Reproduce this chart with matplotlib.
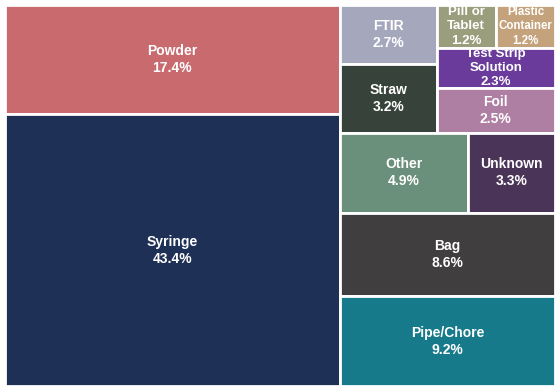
import matplotlib
matplotlib.use("Agg")
import matplotlib.pyplot as plt
from matplotlib.patches import Rectangle

# share of items by type (%)
labels = ["Syringe", "Powder", "Pipe/Chore", "Bag", "Other", "Unknown",
          "Straw", "FTIR", "Foil", "Test Strip\nSolution", "Pill or\nTablet",
          "Plastic\nContainer"]
values = [43.4, 17.4, 9.2, 8.6, 4.9, 3.3, 3.2, 2.7, 2.5, 2.3, 1.2, 1.2]
colors = ["#1f3057", "#c96a6f", "#177a8a", "#403e3f", "#6a8f7b", "#4a3458",
          "#37433a", "#a5a7bd", "#ae7fa2", "#6a3b9b", "#9a9e7d", "#c4a27b"]
# label sizes (pt); the three-line labels are a bit smaller
font_sizes = [10, 10, 10, 10, 10, 10, 10, 10, 10, 9.5, 9.5, 8.3]

# nesting of the tiles: ("h", ...) side by side, ("v", ...) stacked top to bottom
layout = ("h",
          ("v", 1, 0),
          ("v",
           ("h",
            ("v", 7, 6),
            ("v", ("h", 10, 11), 9, 8)),
           ("h", 4, 5),
           3,
           2))


def total(node):
    if isinstance(node, int):
        return values[node]
    return sum(total(c) for c in node[1:])


def place(node, x, y, w, h, out):
    if isinstance(node, int):
        out.append((node, x, y, w, h))
        return
    s = total(node)
    pos = 0.0
    for c in node[1:]:
        f = total(c) / s
        if node[0] == "h":
            place(c, x + pos * w, y, f * w, h, out)
        else:
            place(c, x, y + pos * h, w, f * h, out)
        pos += f


fig = plt.figure(figsize=(5.6, 3.92), dpi=100)
ax = fig.add_axes([0.009, 0.015, 0.982, 0.972])
ax.set_xlim(0, 1)
ax.set_ylim(1, 0)
ax.axis("off")

tiles = []
place(layout, 0, 0, 1, 1, tiles)

for i, x, y, w, h in tiles:
    ax.add_patch(Rectangle((x, y), w, h, facecolor=colors[i],
                           edgecolor="white", linewidth=2))
    ax.text(x + w / 2, y + h / 2, f"{labels[i]}\n{values[i]}%",
            ha="center", va="center", color="white", fontsize=font_sizes[i],
            fontweight="bold", family="Liberation Sans", linespacing=1.25)

fig.savefig("out.png", dpi=100)
